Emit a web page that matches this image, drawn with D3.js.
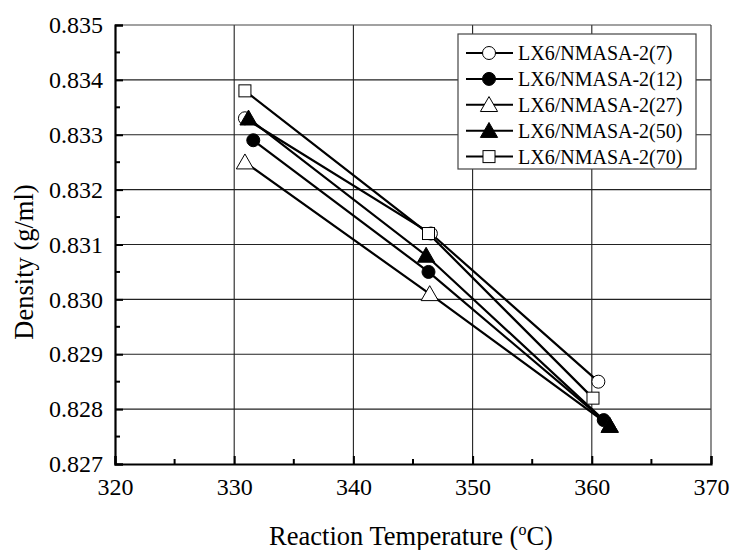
<!DOCTYPE html>
<html>
<head>
<meta charset="utf-8">
<script src="https://cdn.jsdelivr.net/npm/d3@7"></script>
<style>
  body { margin: 0; background: #fff; }
  svg text { font-family: 'Liberation Serif', 'Times New Roman', 'DejaVu Serif', serif !important; fill: #000; }
</style>
</head>
<body>
<div id="chart"></div>
<script>
// series names
const seriesNames = ['LX6/NMASA-2(7)', 'LX6/NMASA-2(12)', 'LX6/NMASA-2(27)', 'LX6/NMASA-2(50)', 'LX6/NMASA-2(70)'];
const seriesSymbols = ['circleOpen', 'circleFilled', 'triangleOpen', 'triangleFilled', 'squareOpen'];

// temperatures (x) and densities (y) per series
const tempS7 = [330.9, 346.5, 360.55];
const densS7 = [0.8333, 0.8312, 0.8285];
const tempS12 = [331.6, 346.3, 361.0];
const densS12 = [0.8329, 0.8305, 0.8278];
const tempS27 = [330.9, 346.4, 361.5];
const densS27 = [0.8325, 0.8301, 0.8277];
const tempS50 = [331.2, 346.1, 361.5];
const densS50 = [0.8333, 0.8308, 0.8277];
const tempS70 = [330.9, 346.3, 360.1];
const densS70 = [0.8338, 0.8312, 0.8282];

// tick labels
const xTicks = [320, 330, 340, 350, 360, 370];
const yTicks = [0.827, 0.828, 0.829, 0.830, 0.831, 0.832, 0.833, 0.834, 0.835];

const temps = [tempS7, tempS12, tempS27, tempS50, tempS70];
const dens = [densS7, densS12, densS27, densS50, densS70];
const series = seriesNames.map((name, i) => ({
  name: name,
  symbol: seriesSymbols[i],
  values: temps[i].map((t, j) => ({ x: t, y: dens[i][j] }))
}));

const W = 733, H = 550;
const margin = { top: 25, right: 22, bottom: 86, left: 115 };
const width = W - margin.left - margin.right;
const height = H - margin.top - margin.bottom;

const x = d3.scaleLinear().domain([320, 370]).range([0, width]);
const y = d3.scaleLinear().domain([0.827, 0.835]).range([height, 0]);

const svg = d3.select('#chart').append('svg')
  .attr('width', W)
  .attr('height', H)
  .attr('font-family', 'Liberation Serif, serif');

const g = svg.append('g')
  .attr('transform', 'translate(' + margin.left + ',' + margin.top + ')');

// grid lines
g.append('g').selectAll('line')
  .data(xTicks.slice(1, -1))
  .enter().append('line')
  .attr('x1', d => x(d)).attr('x2', d => x(d))
  .attr('y1', 0).attr('y2', height)
  .attr('stroke', '#222').attr('stroke-width', 1.1);

g.append('g').selectAll('line')
  .data(yTicks.slice(1, -1))
  .enter().append('line')
  .attr('y1', d => y(d)).attr('y2', d => y(d))
  .attr('x1', 0).attr('x2', width)
  .attr('stroke', '#222').attr('stroke-width', 1.1);

// top and right frame
g.append('line').attr('x1', 0).attr('x2', width).attr('y1', 0).attr('y2', 0)
  .attr('stroke', '#444').attr('stroke-width', 1.2);
g.append('line').attr('x1', width).attr('x2', width).attr('y1', 0).attr('y2', height)
  .attr('stroke', '#444').attr('stroke-width', 1.2);

// axes (ticks inward)
const xAxis = d3.axisBottom(x).tickValues(xTicks).tickSize(-8).tickPadding(14)
  .tickFormat(d3.format('d'));
const yAxis = d3.axisLeft(y).tickValues(yTicks).tickSize(-8).tickPadding(12)
  .tickFormat(d3.format('.3f'));

const gx = g.append('g')
  .attr('transform', 'translate(0,' + height + ')')
  .call(xAxis);
const gy = g.append('g').call(yAxis);

[gx, gy].forEach(a => {
  a.attr('font-family', null).attr('font-size', null);
  a.select('.domain').attr('stroke', '#000').attr('stroke-width', 2.2);
  a.selectAll('.tick line').attr('stroke', '#000').attr('stroke-width', 2);
  a.selectAll('.tick text').attr('font-size', 24).attr('fill', '#000');
});

// minor ticks
const xMinor = d3.range(325, 370, 10);
const yMinor = d3.range(0.8275, 0.835, 0.001);
g.append('g').selectAll('line').data(xMinor).enter().append('line')
  .attr('x1', d => x(d)).attr('x2', d => x(d))
  .attr('y1', height).attr('y2', height - 5)
  .attr('stroke', '#000').attr('stroke-width', 2);
g.append('g').selectAll('line').data(yMinor).enter().append('line')
  .attr('y1', d => y(d)).attr('y2', d => y(d))
  .attr('x1', 0).attr('x2', 5)
  .attr('stroke', '#000').attr('stroke-width', 2);

// axis titles
const xTitle = svg.append('text')
  .attr('x', 411)
  .attr('y', 545)
  .attr('text-anchor', 'middle')
  .attr('font-size', 26.5);
xTitle.append('tspan').text('Reaction Temperature (');
xTitle.append('tspan').attr('dy', -10).attr('font-size', 16).text('o');
xTitle.append('tspan').attr('dy', 10).text('C)');

svg.append('text')
  .attr('transform', 'translate(33,262) rotate(-90)')
  .attr('text-anchor', 'middle')
  .attr('font-size', 26.5)
  .text('Density (g/ml)');

// markers
function drawSymbol(sel, type, r) {
  const filled = type.indexOf('Filled') >= 0;
  const fill = filled ? '#000' : '#fff';
  if (type.indexOf('circle') === 0) {
    sel.append('circle').attr('r', r).attr('fill', fill)
      .attr('stroke', '#000').attr('stroke-width', 1);
  } else if (type.indexOf('triangle') === 0) {
    const s = r * 1.15;
    sel.append('path')
      .attr('d', 'M0,' + (-s * 1.1) + 'L' + (s * 1.15) + ',' + (s * 0.9) + 'L' + (-s * 1.15) + ',' + (s * 0.9) + 'Z')
      .attr('fill', fill).attr('stroke', '#000').attr('stroke-width', 1);
  } else {
    sel.append('rect').attr('x', -r + 0.5).attr('y', -r + 0.5)
      .attr('width', 2 * r - 1).attr('height', 2 * r - 1)
      .attr('fill', fill).attr('stroke', '#000').attr('stroke-width', 1);
  }
}

const line = d3.line().x(d => x(d.x)).y(d => y(d.y));

series.forEach(s => {
  g.append('path')
    .datum(s.values)
    .attr('d', line)
    .attr('fill', 'none')
    .attr('stroke', '#000')
    .attr('stroke-width', 2.2);
});

series.forEach(s => {
  s.values.forEach(v => {
    const m = g.append('g').attr('transform', 'translate(' + x(v.x) + ',' + y(v.y) + ')');
    drawSymbol(m, s.symbol, 6.5);
  });
});

// legend
const legend = svg.append('g').attr('transform', 'translate(458,34)');
legend.append('rect')
  .attr('width', 238).attr('height', 135)
  .attr('fill', '#fff').attr('stroke', '#444').attr('stroke-width', 1.2);

series.forEach((s, i) => {
  const row = legend.append('g').attr('transform', 'translate(0,' + (19 + i * 25.9) + ')');
  row.append('line').attr('x1', 8).attr('x2', 55).attr('y1', 0).attr('y2', 0)
    .attr('stroke', '#000').attr('stroke-width', 2);
  const m = row.append('g').attr('transform', 'translate(31,0)');
  drawSymbol(m, s.symbol, 6.5);
  row.append('text').attr('x', 60).attr('y', 7)
    .attr('font-size', 20).text(s.name);
});
</script>
</body>
</html>
